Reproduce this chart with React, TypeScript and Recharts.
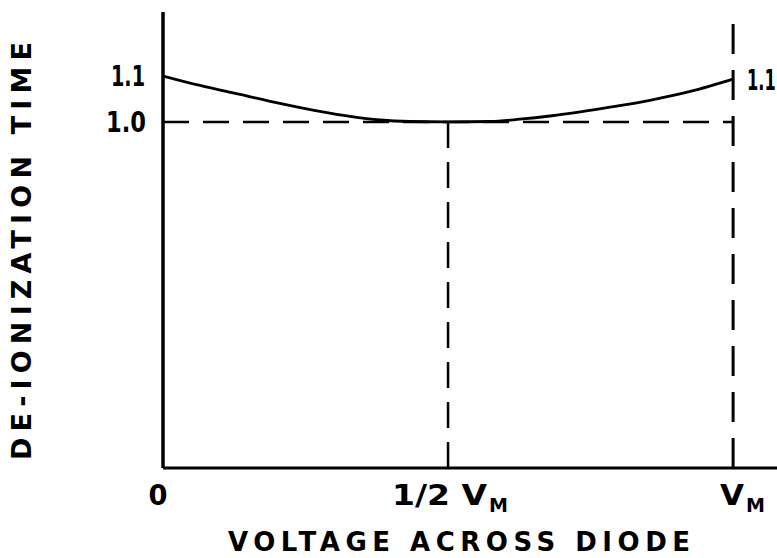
import { LineChart, Line, XAxis, YAxis, ReferenceLine } from 'recharts';

// voltage as fraction of V_M, de-ionization time (relative)
const voltage = [0, 0.065, 0.135, 0.205, 0.275, 0.328, 0.381, 0.433, 0.5, 0.574, 0.626, 0.679, 0.732, 0.784, 0.854, 0.925, 1.0];
const deionTime = [1.1, 1.0793, 1.0598, 1.0402, 1.0228, 1.012, 1.0043, 1.001, 1.0, 1.001, 1.006, 1.013, 1.022, 1.0322, 1.0472, 1.0663, 1.093];
const xTicks = [0, 0.5, 1];
const xTickLabels = ['0', '1/2 V', 'V'];
const yTicks = [1.0, 1.1];
const yTickLabels = ['1.0', '1.1'];

const data = voltage.map((v, i) => ({ v, t: deionTime[i] }));

const FONT = "'DejaVu Sans', sans-serif";

function XTick(props: any) {
  const { x, y, payload } = props;
  const i = xTicks.indexOf(payload.value);
  const label = xTickLabels[i];
  if (i === 0) {
    return (
      <text x={x - 5} y={y + 35} textAnchor="middle" fontFamily={FONT} fontWeight="bold" fontSize={29} fill="#000" textLength={19} lengthAdjust="spacingAndGlyphs">
        {label}
      </text>
    );
  }
  if (i === 1) {
    return (
      <text x={x - 56} y={y + 35} fontFamily={FONT} fontWeight="bold" fontSize={29} fill="#000">
        <tspan textLength={95} lengthAdjust="spacingAndGlyphs">{label}</tspan>
        <tspan fontSize={19} dy={7} dx={2}>M</tspan>
      </text>
    );
  }
  return (
    <text x={x - 13} y={y + 35} fontFamily={FONT} fontWeight="bold" fontSize={29} fill="#000">
      <tspan textLength={24} lengthAdjust="spacingAndGlyphs">{label}</tspan>
      <tspan fontSize={19} dy={7} dx={2}>M</tspan>
    </text>
  );
}

function YTick(props: any) {
  const { x, y, payload } = props;
  const i = yTicks.indexOf(payload.value);
  return (
    <text
      x={x - (i === 0 ? 55 : 50)}
      y={y + 10}
      fontFamily={FONT}
      fontWeight="bold"
      fontSize={29}
      fill="#000"
      textLength={i === 0 ? 40 : 34}
      lengthAdjust="spacingAndGlyphs"
    >
      {yTickLabels[i]}
    </text>
  );
}

export default function App() {
  return (
    <div style={{ position: 'absolute', left: 0, top: 0, width: 777, height: 558, background: '#fff' }}>
      <LineChart width={777} height={558} data={data} margin={{ top: 12, right: 0, bottom: 60, left: 103 }}>
        <XAxis
          dataKey="v"
          type="number"
          domain={[0, 1.077]}
          ticks={xTicks}
          allowDataOverflow
          tickLine={false}
          tickSize={0}
          axisLine={{ stroke: '#000', strokeWidth: 3 }}
          tick={<XTick />}
          height={30}
        />
        <YAxis
          type="number"
          domain={[0.248, 1.239]}
          ticks={yTicks}
          allowDataOverflow
          tickLine={false}
          tickSize={0}
          axisLine={{ stroke: '#000', strokeWidth: 3.5 }}
          tick={<YTick />}
          width={60}
        />
        <ReferenceLine
          segment={[{ x: 0, y: 1 }, { x: 1, y: 1 }]}
          stroke="#000"
          strokeWidth={2.5}
          strokeDasharray="26 14"
        />
        <ReferenceLine
          segment={[{ x: 0.5, y: 1 }, { x: 0.5, y: 0.248 }]}
          stroke="#000"
          strokeWidth={2.5}
          strokeDasharray="26 14"
        />
        <ReferenceLine x={1} stroke="#000" strokeWidth={3} strokeDasharray="30 16" />
        <Line
          type="monotone"
          dataKey="t"
          stroke="#000"
          strokeWidth={2.8}
          dot={false}
          isAnimationActive={false}
        />
        <text
          transform="translate(747 90) scale(0.56 1)"
          fontFamily={FONT}
          fontWeight="bold"
          fontSize={29}
          fill="#000"
        >
          1.1
        </text>
        <text
          x={459}
          y={551}
          textAnchor="middle"
          fontFamily={FONT}
          fontWeight="bold"
          fontSize={26}
          textLength={462}
          lengthAdjust="spacing"
          fill="#000"
        >
          VOLTAGE ACROSS DIODE
        </text>
        <text
          x={31}
          y={251}
          transform="rotate(-90 31 251)"
          textAnchor="middle"
          fontFamily={FONT}
          fontWeight="bold"
          fontSize={27}
          textLength={418}
          lengthAdjust="spacing"
          fill="#000"
        >
          DE-IONIZATION TIME
        </text>
      </LineChart>
    </div>
  );
}
